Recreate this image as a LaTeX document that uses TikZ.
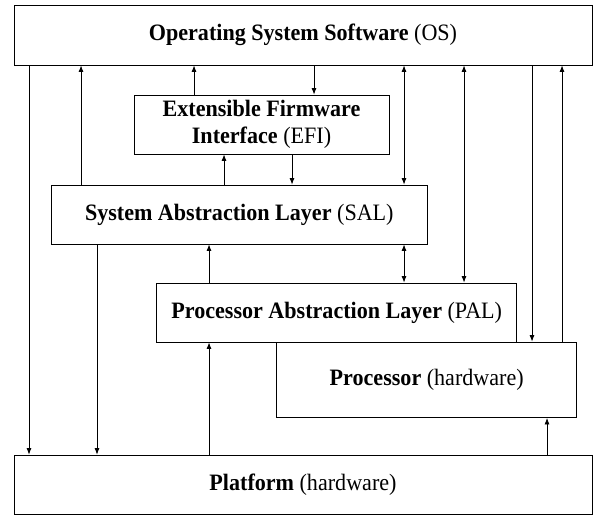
\documentclass[tikz,border=0pt]{standalone}
\usepackage{fontspec}
\setmainfont[FakeStretch=0.94]{Liberation Serif}
\usetikzlibrary{arrows.meta}
\begin{document}
\begin{tikzpicture}[x=1pt,y=-1pt,
  box/.style={draw, line width=0.8pt, inner sep=0pt, align=center,
    font=\fontsize{23.5}{27}\selectfont},
  conn/.style={line width=0.8pt},
  tip/.tip={Latex[length=6.5pt,width=5pt]}]
\useasboundingbox (0,0) rectangle (594,515);
% boxes
\node[box, minimum width=578pt, minimum height=60pt] (os) at (303,35) {\textbf{Operating System Software} (OS)};
\node[box, minimum width=255pt, minimum height=59pt] (efi) at (261.5,124.5) {\textbf{Extensible Firmware}\\\textbf{Interface} (EFI)};
\node[box, minimum width=375.3pt, minimum height=59pt] (sal) at (239.3,214.5) {\textbf{System Abstraction Layer} (SAL)};
\node[box, minimum width=360pt, minimum height=59pt] (pal) at (336.7,312.5) {\textbf{Processor Abstraction Layer} (PAL)};
\node[box, minimum width=300pt, minimum height=75.5pt] (proc) at (426.7,379.75) {\textbf{Processor} (hardware)};
\node[box, minimum width=578pt, minimum height=59pt] (plat) at (303,484.5) {\textbf{Platform} (hardware)};
% columns
\coordinate (c1) at (29,0);
\coordinate (c2) at (81,0);
\coordinate (c3) at (97,0);
\coordinate (c4) at (194,0);
\coordinate (c5) at (209,0);
\coordinate (c6) at (224,0);
\coordinate (c7) at (292,0);
\coordinate (c8) at (314,0);
\coordinate (c9) at (404,0);
\coordinate (c10) at (464,0);
\coordinate (c11) at (532,0);
\coordinate (c12) at (547,0);
\coordinate (c13) at (562,0);
% connectors
\draw[conn,-tip] (os.south -| c1) -- (plat.north -| c1);
\draw[conn,-tip] (sal.north -| c2) -- (os.south -| c2);
\draw[conn,-tip] (sal.south -| c3) -- (plat.north -| c3);
\draw[conn,-tip] (efi.north -| c4) -- (os.south -| c4);
\draw[conn,-tip] (pal.north -| c5) -- (sal.south -| c5);
\draw[conn,-tip] (plat.north -| c5) -- (pal.south -| c5);
\draw[conn,-tip] (sal.north -| c6) -- (efi.south -| c6);
\draw[conn,-tip] (efi.south -| c7) -- (sal.north -| c7);
\draw[conn,-tip] (os.south -| c8) -- (efi.north -| c8);
\draw[conn,tip-tip] (os.south -| c9) -- (sal.north -| c9);
\draw[conn,tip-tip] (sal.south -| c9) -- (pal.north -| c9);
\draw[conn,tip-tip] (os.south -| c10) -- (pal.north -| c10);
\draw[conn,-tip] (os.south -| c11) -- (proc.north -| c11);
\draw[conn,-tip] (plat.north -| c12) -- (proc.south -| c12);
\draw[conn,-tip] (proc.north -| c13) -- (os.south -| c13);
\end{tikzpicture}
\end{document}
